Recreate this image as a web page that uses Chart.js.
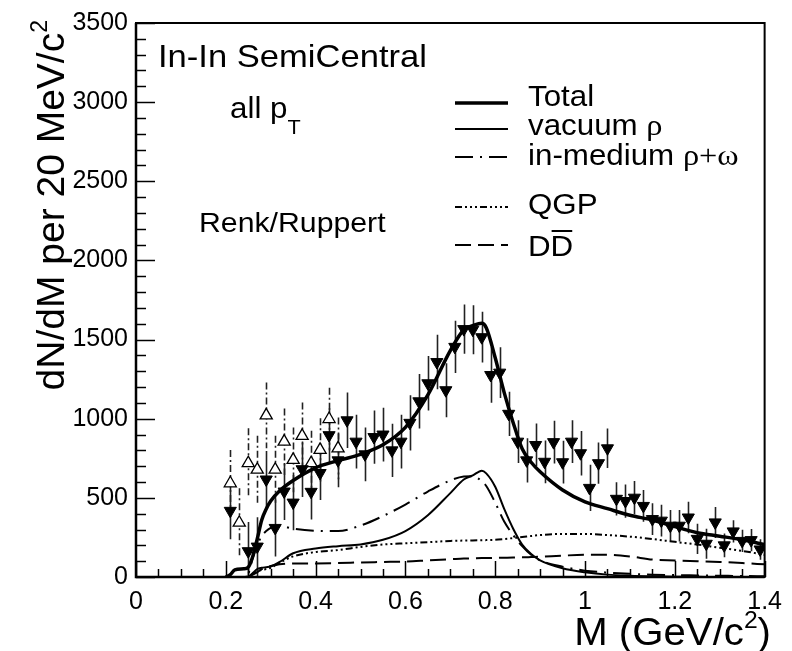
<!DOCTYPE html>
<html>
<head>
<meta charset="utf-8">
<script src="https://cdn.jsdelivr.net/npm/chart.js@4/dist/chart.umd.min.js"></script>
<style>
html, body { margin: 0; padding: 0; background: #fff; }
#wrap { width: 792px; height: 651px; }
</style>
</head>
<body>
<div id="wrap"><canvas id="spectrum" width="792" height="651"></canvas></div>
<script>
// tick labels
const xTickValues = [0, 0.2, 0.4, 0.6, 0.8, 1, 1.2, 1.4];
const yTickValues = [0, 500, 1000, 1500, 2000, 2500, 3000, 3500];

// measured spectrum (filled triangles), 20 MeV bins
const dataMass = [0.21, 0.25, 0.27, 0.29, 0.31, 0.33, 0.35, 0.37, 0.39, 0.41,
    0.43, 0.45, 0.47, 0.49, 0.51, 0.53, 0.55, 0.57, 0.59, 0.61,
    0.63, 0.65, 0.67, 0.69, 0.71, 0.73, 0.75, 0.77, 0.79, 0.81,
    0.83, 0.85, 0.87, 0.89, 0.91, 0.93, 0.95, 0.97, 0.99, 1.01,
    1.03, 1.05, 1.07, 1.09, 1.11, 1.13, 1.15, 1.17, 1.19, 1.21,
    1.23, 1.25, 1.27, 1.29, 1.31, 1.33, 1.35, 1.37, 1.39];
const dataYield = [418, 163, 192, 616, 310, 540, 470, 681, 538, 657,
    896, 737, 990, 855, 775, 884, 900, 800, 855, 974,
    1110, 1224, 1358, 1180, 1454, 1566, 1562, 1515, 1276, 1291,
    1031, 855, 737, 834, 728, 852, 725, 855, 782, 563,
    719, 813, 494, 480, 501, 449, 366, 356, 324, 324,
    376, 241, 210, 345, 200, 288, 228, 233, 174];
const dataErr = [180, 185, 185, 180, 180, 180, 175, 175, 175, 170,
    170, 170, 175, 170, 170, 168, 170, 168, 170, 175,
    172, 172, 172, 170, 165, 155, 155, 160, 175, 160,
    140, 135, 140, 135, 135, 135, 135, 135, 140, 146,
    130, 125, 105, 105, 105, 100, 100, 100, 100, 100,
    100, 95, 95, 98, 75, 70, 70, 70, 65];

// second measurement at low mass (open triangles)
const openMass = [0.21, 0.23, 0.25, 0.27, 0.29, 0.31, 0.33, 0.35, 0.37, 0.39, 0.41, 0.43, 0.45];
const openYield = [592, 343, 719, 678, 1021, 678, 855, 740, 892, 719, 803, 998, 813];
const openErr = [210, 218, 220, 215, 208, 215, 210, 205, 210, 205, 200, 198, 195];

// model curves (Renk/Ruppert)
const modelMass = [0.20, 0.21, 0.22, 0.24, 0.25, 0.26, 0.27, 0.28, 0.29, 0.30,
    0.32, 0.35, 0.40, 0.45, 0.50, 0.55, 0.60, 0.65, 0.70, 0.73,
    0.75, 0.77, 0.78, 0.80, 0.82, 0.84, 0.86, 0.88, 0.90, 0.95,
    1.00, 1.05, 1.10, 1.15, 1.20, 1.25, 1.30, 1.35, 1.40];
const totalCurve = [0, 15, 45, 52, 62, 130, 240, 360, 430, 480,
    545, 610, 690, 735, 775, 835, 945, 1150, 1430, 1562,
    1588, 1603, 1575, 1385, 1165, 975, 810, 725, 665, 550,
    475, 432, 390, 360, 318, 280, 258, 235, 205];
const vacuumRho = [0, 0, 0, 0, 0, 25, 50, 58, 62, 66,
    95, 150, 180, 195, 206, 235, 290, 390, 530, 616,
    642, 672, 655, 570, 430, 305, 205, 145, 105, 55,
    30, 15, 8, 4, 2, 1, 0, 0, 0];
const inMediumRho = [0, 0, 0, 0, 20, 120, 200, 260, 290, 310,
    322, 305, 292, 290, 325, 385, 458, 540, 610, 635,
    637, 605, 575, 470, 350, 265, 195, 140, 105, 65,
    40, 28, 20, 15, 12, 10, 8, 6, 5];
const qgpCurve = [0, 0, 0, 0, 5, 20, 35, 45, 50, 58,
    90, 130, 158, 170, 190, 205, 213, 220, 228, 230,
    231, 232, 233, 235, 240, 246, 252, 259, 265, 272,
    272, 265, 255, 240, 222, 205, 185, 165, 140];
const charmCurve = [0, 0, 0, 0, 3, 15, 30, 50, 62, 70,
    80, 85, 86, 88, 92, 95, 98, 105, 112, 117,
    118, 120, 120, 121, 122, 123, 124, 126, 128, 135,
    140, 140, 130, 110, 105, 100, 95, 88, 80];

const SANS = '"Liberation Sans", Arial, Helvetica, sans-serif';
const SERIF = '"Liberation Serif", "Times New Roman", serif';

function pts(xs, ys) {
    return xs.map((x, i) => ({x: x, y: ys[i]}));
}

function curve(label, ys, width, dash) {
    return {
        label: label,
        data: pts(modelMass, ys),
        borderColor: '#000',
        borderWidth: width,
        borderDash: dash,
        pointRadius: 0,
        fill: false,
        cubicInterpolationMode: 'monotone'
    };
}

// draws a list of text runs (different fonts / raised superscripts) one after another,
// optionally stretched horizontally by sx
function drawRuns(ctx, runs, x, y, align, sx) {
    sx = sx || 1;
    let total = 0;
    runs.forEach(r => {
        ctx.font = r.font;
        r.w = ctx.measureText(r.text).width * sx;
        total += r.w;
    });
    let cx = align == 'right' ? x - total : x;
    runs.forEach(r => {
        ctx.save();
        ctx.font = r.font;
        ctx.translate(cx, y + (r.dy || 0));
        ctx.scale(sx, 1);
        ctx.fillText(r.text, 0, 0);
        ctx.restore();
        r.x = cx;
        cx += r.w;
    });
    return runs;
}

const errorBars = {
    id: 'errorBars',
    beforeDatasetsDraw(chart) {
        const ctx = chart.ctx;
        const yScale = chart.scales.y;
        ctx.save();
        ctx.beginPath();
        ctx.rect(chart.chartArea.left, chart.chartArea.top, chart.chartArea.width, chart.chartArea.height);
        ctx.clip();
        chart.data.datasets.forEach((ds, di) => {
            if (!ds.errors) return;
            const meta = chart.getDatasetMeta(di);
            ctx.strokeStyle = '#222';
            ctx.lineWidth = 1.6;
            ctx.setLineDash(ds.errorDash || []);
            meta.data.forEach((pt, i) => {
                const v = ds.data[i].y;
                const px = Math.round(pt.x) + 0.5;
                ctx.beginPath();
                ctx.moveTo(px, yScale.getPixelForValue(v + ds.errors[i]));
                ctx.lineTo(px, yScale.getPixelForValue(Math.max(0, v - ds.errors[i])));
                ctx.stroke();
            });
        });
        ctx.restore();
    }
};

const frame = {
    id: 'frame',
    afterDraw(chart) {
        const ctx = chart.ctx;
        const a = chart.chartArea;
        const xs = chart.scales.x;
        const ys = chart.scales.y;
        ctx.save();
        ctx.strokeStyle = '#000';
        ctx.setLineDash([]);
        // inward ticks, minor every 100 / 0.05
        ctx.lineWidth = 1.5;
        for (let i = 0; i <= 35; i++) {
            const py = Math.round(ys.getPixelForValue(i * 100)) + 0.5;
            const len = i % 5 == 0 ? 19 : 10;
            ctx.beginPath();
            ctx.moveTo(a.left, py);
            ctx.lineTo(a.left + len, py);
            ctx.stroke();
        }
        for (let i = 0; i <= 28; i++) {
            const px = Math.round(xs.getPixelForValue(i * 0.05)) + 0.5;
            const len = i % 4 == 0 ? 16 : 8;
            ctx.beginPath();
            ctx.moveTo(px, a.bottom);
            ctx.lineTo(px, a.bottom - len);
            ctx.stroke();
        }
        ctx.lineWidth = 2;
        ctx.strokeRect(a.left, a.top, a.right - a.left, a.bottom - a.top);
        ctx.lineWidth = 2.5;
        ctx.beginPath();
        ctx.moveTo(a.left, a.top);
        ctx.lineTo(a.left, a.bottom);
        ctx.lineTo(a.right, a.bottom);
        ctx.stroke();
        ctx.restore();
    }
};

const TXT = 1.08;

const labels = {
    id: 'labels',
    afterDraw(chart) {
        const ctx = chart.ctx;
        ctx.save();
        ctx.fillStyle = '#000';
        ctx.textBaseline = 'alphabetic';
        ctx.textAlign = 'left';

        drawRuns(ctx, [{text: 'In-In SemiCentral', font: '32px ' + SANS}], 158, 67, 'left', TXT);
        drawRuns(ctx, [
            {text: 'all p', font: '29px ' + SANS},
            {text: 'T', font: '20px ' + SANS, dy: 16}
        ], 230, 118, 'left', TXT);
        drawRuns(ctx, [{text: 'Renk/Ruppert', font: '28px ' + SANS}], 199, 232, 'left', TXT);

        // legend
        const entries = [
            {ds: 0, y: 103, base: 106, runs: [{text: 'Total', font: '29px ' + SANS}]},
            {ds: 1, y: 129, base: 135, runs: [{text: 'vacuum ', font: '29px ' + SANS}, {text: 'ρ', font: '30px ' + SERIF}]},
            {ds: 2, y: 157, base: 165, runs: [{text: 'in-medium ', font: '29px ' + SANS}, {text: 'ρ+ω', font: '30px ' + SERIF}]},
            {ds: 3, y: 207, base: 214, runs: [{text: 'QGP', font: '29px ' + SANS}]},
            {ds: 4, y: 245, base: 256, runs: [{text: 'DD', font: '29px ' + SANS}]}
        ];
        entries.forEach(e => {
            const ds = chart.data.datasets[e.ds];
            ctx.strokeStyle = '#000';
            ctx.lineWidth = ds.borderWidth;
            ctx.setLineDash(ds.borderDash || []);
            ctx.beginPath();
            ctx.moveTo(455, e.y);
            ctx.lineTo(508, e.y);
            ctx.stroke();
            const runs = drawRuns(ctx, e.runs, 528, e.base, 'left', TXT);
            if (e.ds == 4) {
                // bar over the second D
                const d = runs[0].w / 2;
                ctx.setLineDash([]);
                ctx.lineWidth = 2;
                ctx.beginPath();
                ctx.moveTo(runs[0].x + d + 1, e.base - 25);
                ctx.lineTo(runs[0].x + 2 * d - 1, e.base - 25);
                ctx.stroke();
            }
        });

        // axis titles
        drawRuns(ctx, [
            {text: 'M (GeV/c', font: '39px ' + SANS},
            {text: '2', font: '24px ' + SANS, dy: -17},
            {text: ')', font: '39px ' + SANS}
        ], 771, 645, 'right', 1.03);

        ctx.translate(64, 20);
        ctx.rotate(-Math.PI / 2);
        drawRuns(ctx, [
            {text: 'dN/dM per 20 MeV/c', font: '39px ' + SANS},
            {text: '2', font: '23px ' + SANS, dy: -17}
        ], 0, 0, 'right');
        ctx.restore();
    }
};

const tickFont = {family: SANS, size: 25};

new Chart(document.getElementById('spectrum'), {
    type: 'line',
    data: {
        datasets: [
            curve('Total', totalCurve, 3.5, []),
            curve('vacuum ρ', vacuumRho, 2, []),
            curve('in-medium ρ+ω', inMediumRho, 2, [18, 7, 2, 7]),
            curve('QGP', qgpCurve, 2, [7, 3, 2, 3, 2, 3, 2, 3]),
            curve('DD', charmCurve, 2, [16, 7]),
            {
                label: 'data',
                data: pts(dataMass, dataYield),
                errors: dataErr,
                showLine: false,
                pointStyle: 'triangle',
                pointRotation: 180,
                pointRadius: 7,
                backgroundColor: '#000',
                borderColor: '#000',
                borderWidth: 1
            },
            {
                label: 'data (low mass)',
                data: pts(openMass, openYield),
                errors: openErr,
                errorDash: [7, 3, 2, 3],
                showLine: false,
                pointStyle: 'triangle',
                pointRotation: 0,
                pointRadius: 7,
                backgroundColor: '#fff',
                borderColor: '#000',
                borderWidth: 1.3
            }
        ]
    },
    options: {
        responsive: false,
        animation: false,
        devicePixelRatio: 1,
        layout: {padding: {top: 16, right: 18, left: 0, bottom: 0}},
        plugins: {legend: {display: false}, tooltip: {enabled: false}},
        scales: {
            x: {
                type: 'linear',
                min: 0,
                max: 1.4,
                grid: {display: false, drawTicks: false},
                border: {display: false},
                ticks: {
                    font: tickFont,
                    color: '#000',
                    padding: 10,
                    maxRotation: 0,
                    autoSkip: false,
                    callback: v => String(+v.toFixed(1))
                },
                afterBuildTicks: s => { s.ticks = xTickValues.map(v => ({value: v})); },
                afterFit: s => { s.height = 74; }
            },
            y: {
                min: 0,
                max: 3500,
                grid: {display: false, drawTicks: false},
                border: {display: false},
                ticks: {font: tickFont, color: '#000', padding: 8, callback: v => String(v)},
                afterBuildTicks: s => { s.ticks = yTickValues.map(v => ({value: v})); },
                afterFit: s => { s.width = 136; }
            }
        }
    },
    plugins: [errorBars, frame, labels]
});
</script>
</body>
</html>
